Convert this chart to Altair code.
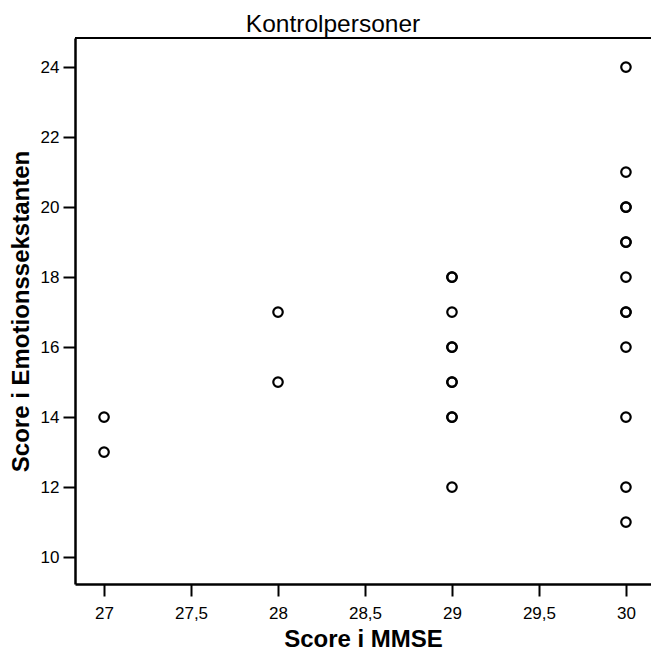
import altair as alt
import pandas as pd

mmse = [27, 27, 28, 28,
        29, 29, 29, 29, 29, 29, 29, 29, 29, 29,
        30, 30, 30, 30, 30, 30, 30, 30, 30, 30, 30, 30, 30]
emotion = [14, 13, 17, 15,
           18, 18, 17, 16, 16, 15, 15, 14, 14, 12,
           24, 21, 20, 20, 19, 19, 18, 17, 17, 16, 14, 12, 11]

df = pd.DataFrame({"MMSE": mmse, "Emotion": emotion})

xdom = [26.833, 30.144]
ydom = [9.23, 24.83]

font = "Liberation Sans"

points = alt.Chart(df).mark_point(
    shape="circle", filled=False, color="black", size=90, strokeWidth=2.2, opacity=1
).encode(
    x=alt.X("MMSE:Q", scale=alt.Scale(domain=xdom, nice=False, zero=False),
            axis=alt.Axis(title="Score i MMSE", values=[27, 27.5, 28, 28.5, 29, 29.5, 30],
                          labelExpr="replace(format(datum.value, '.1~f'), '.', ',')")),
    y=alt.Y("Emotion:Q", scale=alt.Scale(domain=ydom, nice=False, zero=False),
            axis=alt.Axis(title="Score i Emotionssekstanten", values=[10, 12, 14, 16, 18, 20, 22, 24])),
)

top = alt.Chart(pd.DataFrame({"y": [ydom[1]]})).mark_rule(color="black", strokeWidth=2).encode(
    y=alt.Y("y:Q", scale=alt.Scale(domain=ydom, nice=False, zero=False))
)

chart = alt.layer(points, top).properties(
    width=576, height=546,
    title=alt.TitleParams("Kontrolpersoner", font=font, fontSize=24.5, fontWeight="normal",
                          anchor="middle", dx=-30, offset=0, color="black"),
    autosize=alt.AutoSizeParams(type="none"),
    padding={"left": 75, "top": 38, "right": 0, "bottom": 68},
).configure_view(stroke=None).configure_axis(
    domainColor="black", domainWidth=2.5, tickColor="black", tickWidth=2, tickSize=12,
    labelFont=font, labelFontSize=17, labelColor="black", labelPadding=4,
    titleFont=font, titleFontSize=24, titleFontWeight="bold", titleColor="black",
    grid=False,
).configure_axisX(titlePadding=6, labelPadding=9).configure_axisY(titlePadding=7)

chart.save("out.html", embed_options={"renderer": "svg", "actions": False})
